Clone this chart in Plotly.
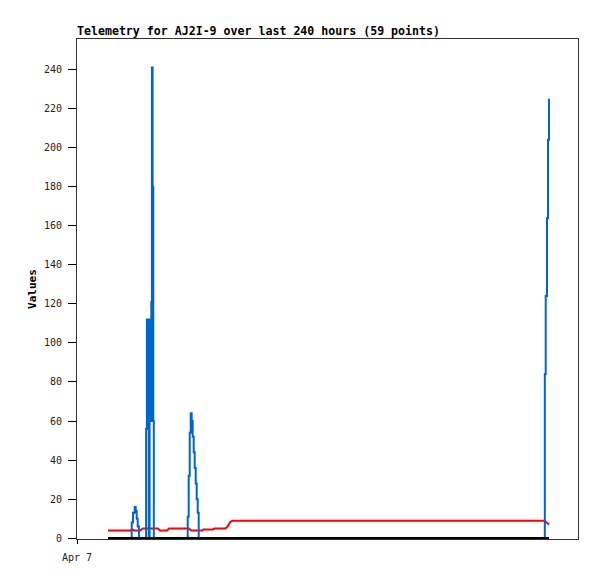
import pandas as pd
import plotly.graph_objects as go

# ---- data (hours since Apr 7 00:00, values) ----
base_date = "2024-04-07 00:00"
axis_end_hours = 272.65

blue_hours = [16.87, 29.66, 29.77, 30.48, 31.40, 31.95, 32.49, 33.03, 33.74,
              37.44, 37.61, 38.04, 38.86, 39.07, 39.51, 39.89, 40.16, 40.44, 40.76, 41.14, 41.52, 41.80,
              60.14, 60.24, 60.79, 61.33, 61.88, 62.42, 62.97, 63.51, 64.05, 64.60, 65.14, 65.69, 66.23,
              254.42, 254.59, 255.08, 255.78, 256.33, 256.87]
blue_values = [0, 0, 8, 13, 16, 14, 10, 6, 0,
               0, 56, 112, 112, 0, 112, 112, 60, 121, 241, 180, 60, 0,
               0, 11, 32, 54, 64, 60, 52, 44, 36, 28, 20, 13, 0,
               0, 84, 124, 164, 204, 225]

red_hours = [16.87, 29.39, 29.93, 31.02, 34.29, 35.10, 35.92, 44.08, 45.17, 48.98, 50.07,
             60.95, 62.04, 68.03, 68.84, 74.01, 74.83, 80.54, 81.63, 82.72, 83.54, 84.63,
             254.42, 256.87]
red_values = [4, 4, 4.6, 4, 4, 4.6, 5, 5, 4, 4, 5,
              5, 4, 4, 4.5, 4.5, 5, 5, 5.6, 7.2, 8.4, 9,
              9, 7]

black_hours = [16.87, 256.87]
black_values = [0, 0]

y_ticks = [0, 20, 40, 60, 80, 100, 120, 140, 160, 180, 200, 220, 240]
x_tick_hours = [0]
x_tick_labels = ["Apr 7"]

title_text = "Telemetry for AJ2I-9 over last 240 hours (59 points)"
y_title = "Values"

base = pd.Timestamp(base_date)
def to_dt(hours):
    return [base + pd.Timedelta(hours=h) for h in hours]

mono = "DejaVu Sans Mono"
W, H = 597, 579
OFF = 8  # page body offset

fig = go.Figure()
fig.add_trace(go.Scatter(x=to_dt(red_hours), y=red_values, mode="lines",
                         line=dict(color="#FF0000", width=2), hoverinfo="skip"))
fig.add_trace(go.Scatter(x=to_dt(blue_hours), y=blue_values, mode="lines",
                         line=dict(color="#0066CC", width=2, shape="hv"), hoverinfo="skip"))
fig.add_trace(go.Scatter(x=to_dt(black_hours), y=black_values, mode="lines",
                         line=dict(color="#000000", width=2.5), hoverinfo="skip"))

fig.update_layout(
    width=W, height=H,
    margin=dict(l=77 - OFF, r=27, t=31, b=48),
    paper_bgcolor="white", plot_bgcolor="white",
    showlegend=False,
    title=dict(text=title_text, x=(77 - OFF) / W, xanchor="left", xref="container",
               y=1 - (31 - OFF) / H, yanchor="middle", yref="container",
               font=dict(family=mono, size=11.6, color="#000000", weight="bold")),
    xaxis=dict(
        type="date", automargin=False,
        range=[base, base + pd.Timedelta(hours=axis_end_hours)],
        tickvals=to_dt(x_tick_hours), ticktext=x_tick_labels,
        ticks="outside", ticklen=4, tickcolor="#000000",
        ticklabelstandoff=5,
        showgrid=False, zeroline=False,
        showline=True, linecolor="#333333", linewidth=1, mirror=True,
        tickfont=dict(family=mono, size=10, color="#222222"),
    ),
    yaxis=dict(
        range=[-0.4, 255.6], automargin=False,
        tickvals=y_ticks,
        ticks="outside", ticklen=8, tickcolor="#000000",
        ticklabelstandoff=4,
        showgrid=False, zeroline=False,
        showline=True, linecolor="#333333", linewidth=1, mirror=True,
        tickfont=dict(family=mono, size=10, color="#222222"),
        title=dict(text=y_title, standoff=5,
                   font=dict(family=mono, size=11, color="#000000", weight="bold")),
    ),
)

fig.write_html("out.html")
